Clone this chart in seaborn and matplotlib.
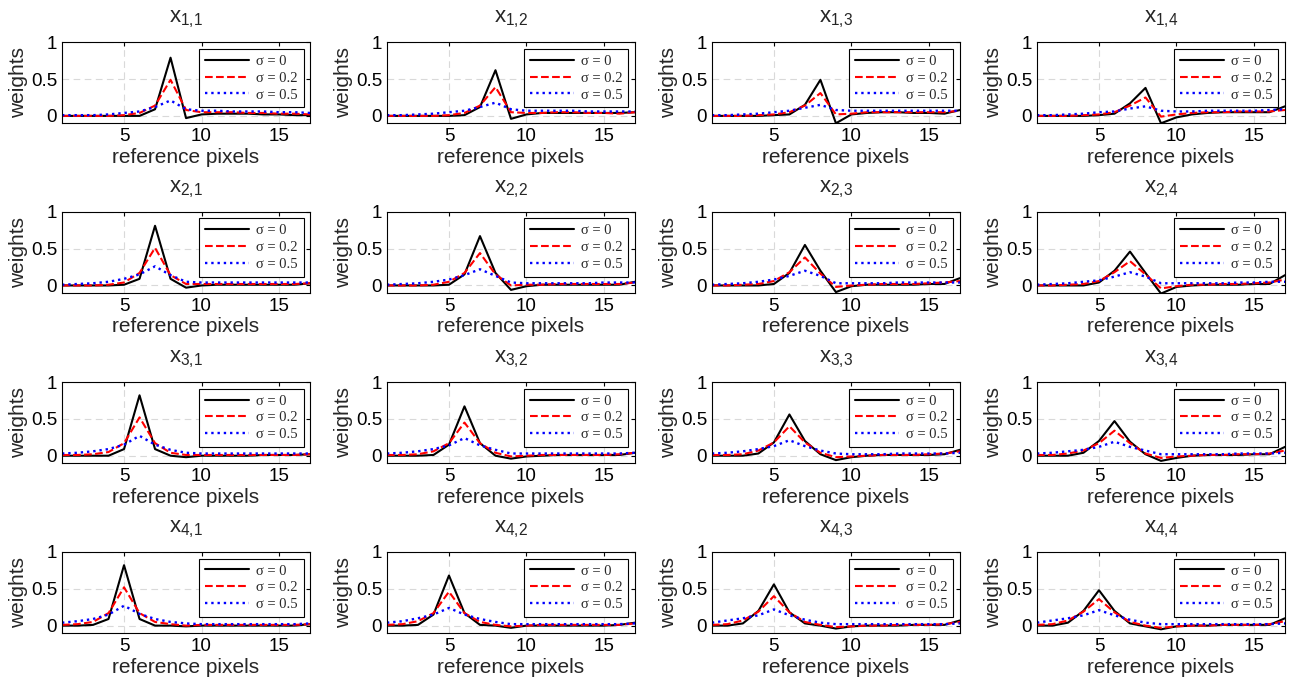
import numpy as np
import pandas as pd
import matplotlib
matplotlib.use('Agg')
import matplotlib.pyplot as plt
import seaborn as sns


pixels = list(range(1, 18))
sigma_labels = ['σ = 0', 'σ = 0.2', 'σ = 0.5']
titles = [['x$_{%d{,}%d}$' % (r, c) for c in range(1, 5)] for r in range(1, 5)]

# weights per row (one list per column), sigma = 0 / 0.2 / 0.5
s0_r1 = [
    [0, 0, 0, 0, 0, 0, 0.09, 0.79, -0.03, 0.02, 0.03, 0.03, 0.03, 0.02, 0.02, 0.01, 0.01],
    [0, 0, 0, 0, 0, 0.01, 0.12, 0.62, -0.04, 0.02, 0.04, 0.04, 0.04, 0.04, 0.04, 0.04, 0.05],
    [0, 0, 0, 0, 0.01, 0.02, 0.15, 0.49, -0.1, 0.02, 0.04, 0.05, 0.05, 0.04, 0.04, 0.03, 0.08],
    [0, 0, 0, 0, 0.01, 0.03, 0.17, 0.38, -0.1, -0.02, 0.02, 0.04, 0.05, 0.05, 0.05, 0.05, 0.13],
]
s02_r1 = [
    [0, 0, 0, 0, 0.01, 0.04, 0.14, 0.49, 0.08, 0.05, 0.05, 0.05, 0.04, 0.04, 0.03, 0.03, 0.02],
    [0, 0, 0, 0, 0.01, 0.04, 0.14, 0.39, 0.05, 0.04, 0.04, 0.05, 0.05, 0.04, 0.04, 0.03, 0.05],
    [0, 0, 0, 0.01, 0.02, 0.05, 0.14, 0.31, 0.02, 0.03, 0.05, 0.05, 0.05, 0.05, 0.05, 0.05, 0.07],
    [0, 0, 0, 0.01, 0.02, 0.05, 0.14, 0.25, -0.01, 0.02, 0.04, 0.05, 0.05, 0.06, 0.06, 0.06, 0.08],
]
s05_r1 = [
    [0.01, 0.01, 0.01, 0.02, 0.04, 0.06, 0.12, 0.21, 0.09, 0.07, 0.07, 0.06, 0.06, 0.06, 0.05, 0.05, 0.04],
    [0.01, 0.01, 0.02, 0.03, 0.05, 0.07, 0.12, 0.18, 0.09, 0.07, 0.07, 0.07, 0.07, 0.06, 0.06, 0.06, 0.06],
    [0.01, 0.01, 0.02, 0.03, 0.05, 0.07, 0.11, 0.15, 0.08, 0.07, 0.07, 0.07, 0.07, 0.07, 0.07, 0.07, 0.07],
    [0.01, 0.01, 0.02, 0.03, 0.05, 0.06, 0.1, 0.13, 0.07, 0.06, 0.06, 0.07, 0.07, 0.07, 0.07, 0.08, 0.09],
]

s0_r2 = [
    [0, 0, 0, 0, 0.01, 0.09, 0.81, 0.09, -0.03, 0, 0.01, 0.01, 0.01, 0.01, 0.01, 0.01, 0.03],
    [0, 0, 0, 0, 0.01, 0.15, 0.67, 0.17, -0.06, -0.01, 0.01, 0.01, 0.01, 0.01, 0.01, 0.01, 0.05],
    [0, 0, 0, 0, 0.02, 0.17, 0.55, 0.2, -0.09, -0.01, 0.01, 0.01, 0.01, 0.01, 0.02, 0.02, 0.1],
    [0, 0, 0, 0, 0.04, 0.2, 0.46, 0.17, -0.11, -0.02, 0, 0.01, 0.01, 0.01, 0.02, 0.02, 0.14],
]
s02_r2 = [
    [0, 0, 0, 0.01, 0.04, 0.17, 0.51, 0.14, 0.02, 0.02, 0.02, 0.02, 0.02, 0.02, 0.02, 0.02, 0.03],
    [0, 0, 0, 0.01, 0.05, 0.17, 0.44, 0.15, 0, 0.01, 0.01, 0.02, 0.02, 0.02, 0.02, 0.02, 0.04],
    [0, 0, 0.01, 0.02, 0.06, 0.18, 0.38, 0.16, -0.02, 0, 0.01, 0.02, 0.02, 0.02, 0.03, 0.04, 0.06],
    [0, 0, 0.01, 0.02, 0.06, 0.18, 0.33, 0.15, -0.04, -0.01, 0.01, 0.01, 0.02, 0.02, 0.03, 0.04, 0.08],
]
s05_r2 = [
    [0.01, 0.02, 0.03, 0.05, 0.09, 0.15, 0.26, 0.14, 0.05, 0.04, 0.04, 0.04, 0.04, 0.04, 0.04, 0.04, 0.04],
    [0.01, 0.02, 0.03, 0.05, 0.08, 0.14, 0.22, 0.13, 0.04, 0.03, 0.03, 0.03, 0.03, 0.03, 0.04, 0.04, 0.04],
    [0.01, 0.02, 0.03, 0.05, 0.08, 0.13, 0.2, 0.13, 0.03, 0.03, 0.03, 0.03, 0.04, 0.04, 0.04, 0.04, 0.04],
    [0.01, 0.02, 0.03, 0.05, 0.07, 0.12, 0.18, 0.12, 0.03, 0.03, 0.03, 0.03, 0.03, 0.04, 0.04, 0.05, 0.05],
]

s0_r3 = [
    [0, 0, 0, 0, 0.09, 0.82, 0.09, 0.0, -0.02, 0, 0, 0, 0, 0.01, 0.01, 0.01, 0.02],
    [0, 0, 0, 0.01, 0.15, 0.67, 0.17, 0.0, -0.04, -0.01, 0, 0.01, 0.01, 0.01, 0.01, 0.01, 0.04],
    [0, 0, 0, 0.03, 0.18, 0.56, 0.2, 0.02, -0.06, -0.02, 0, 0.01, 0.01, 0.01, 0.01, 0.02, 0.08],
    [0, 0, 0, 0.04, 0.2, 0.47, 0.19, 0.02, -0.07, -0.03, 0, 0.01, 0.01, 0.01, 0.02, 0.02, 0.12],
]
s02_r3 = [
    [0.01, 0.01, 0.02, 0.05, 0.17, 0.52, 0.17, 0.04, 0.01, 0.01, 0.01, 0.01, 0.01, 0.01, 0.01, 0.01, 0.02],
    [0.01, 0.01, 0.02, 0.06, 0.17, 0.45, 0.17, 0.04, -0.01, 0, 0.01, 0.01, 0.01, 0.01, 0.01, 0.02, 0.04],
    [0.01, 0.01, 0.02, 0.07, 0.18, 0.4, 0.18, 0.04, -0.02, -0.01, 0, 0.01, 0.01, 0.01, 0.02, 0.03, 0.06],
    [0.01, 0.01, 0.03, 0.07, 0.17, 0.34, 0.17, 0.03, -0.03, -0.01, 0, 0.01, 0.01, 0.02, 0.02, 0.03, 0.07],
]
s05_r3 = [
    [0.03, 0.04, 0.06, 0.09, 0.15, 0.27, 0.15, 0.08, 0.04, 0.03, 0.03, 0.03, 0.03, 0.03, 0.03, 0.03, 0.03],
    [0.03, 0.04, 0.06, 0.09, 0.14, 0.24, 0.14, 0.08, 0.03, 0.03, 0.03, 0.03, 0.03, 0.03, 0.03, 0.03, 0.04],
    [0.03, 0.04, 0.06, 0.09, 0.13, 0.21, 0.13, 0.07, 0.03, 0.02, 0.02, 0.02, 0.03, 0.03, 0.03, 0.03, 0.04],
    [0.03, 0.04, 0.06, 0.08, 0.12, 0.19, 0.12, 0.07, 0.02, 0.02, 0.02, 0.02, 0.02, 0.03, 0.03, 0.03, 0.04],
]

s0_r4 = [
    [0, 0, 0.01, 0.09, 0.82, 0.09, 0, 0, -0.01, 0, 0, 0, 0, 0, 0, 0, 0.02],
    [0, 0, 0.01, 0.15, 0.68, 0.17, 0.01, 0, -0.03, 0, 0, 0, 0, 0, 0, 0.01, 0.04],
    [0, 0, 0.03, 0.2, 0.56, 0.18, 0.03, 0, -0.04, -0.01, 0, 0, 0, 0.01, 0.01, 0.01, 0.07],
    [0, 0, 0.04, 0.2, 0.48, 0.2, 0.03, -0.01, -0.05, -0.01, 0, 0, 0.01, 0.01, 0.01, 0.01, 0.1],
]
s02_r4 = [
    [0.01, 0.02, 0.05, 0.17, 0.52, 0.17, 0.05, 0.02, 0, 0.01, 0.01, 0.01, 0.01, 0.01, 0.01, 0.01, 0.02],
    [0.01, 0.02, 0.06, 0.17, 0.46, 0.17, 0.05, 0.01, -0.01, 0, 0.01, 0.01, 0.01, 0.01, 0.01, 0.01, 0.03],
    [0.01, 0.02, 0.07, 0.19, 0.4, 0.18, 0.05, 0.01, -0.02, -0.01, 0, 0, 0.01, 0.01, 0.01, 0.02, 0.05],
    [0.01, 0.02, 0.07, 0.19, 0.36, 0.18, 0.05, 0, -0.03, -0.01, 0, 0, 0.01, 0.01, 0.01, 0.02, 0.06],
]
s05_r4 = [
    [0.04, 0.06, 0.09, 0.15, 0.27, 0.16, 0.09, 0.05, 0.03, 0.02, 0.02, 0.02, 0.02, 0.02, 0.02, 0.02, 0.03],
    [0.04, 0.06, 0.1, 0.15, 0.24, 0.15, 0.09, 0.05, 0.02, 0.02, 0.02, 0.02, 0.02, 0.02, 0.02, 0.02, 0.03],
    [0.04, 0.07, 0.1, 0.14, 0.22, 0.14, 0.08, 0.04, 0.02, 0.02, 0.02, 0.02, 0.02, 0.02, 0.02, 0.02, 0.03],
    [0.04, 0.07, 0.1, 0.14, 0.21, 0.14, 0.08, 0.04, 0.02, 0.02, 0.02, 0.02, 0.02, 0.02, 0.02, 0.02, 0.03],
]

rows = [
    (s0_r1, s02_r1, s05_r1),
    (s0_r2, s02_r2, s05_r2),
    (s0_r3, s02_r3, s05_r3),
    (s0_r4, s02_r4, s05_r4),
]

sns.set_style('white')
plt.rcParams['font.family'] = ['Liberation Sans', 'DejaVu Sans']
plt.rcParams['mathtext.fontset'] = 'custom'
plt.rcParams['mathtext.rm'] = 'Liberation Sans'
plt.rcParams['mathtext.default'] = 'regular'

colors = ['black', 'red', 'blue']
styles = ['-', '--', ':']
widths = [1.5, 1.5, 1.7]

fig = plt.figure(figsize=(12.92, 6.81), dpi=100)

lefts = [0.048, 0.2995, 0.551, 0.8026]
bottoms = [0.819, 0.570, 0.320, 0.0705]

for r in range(4):
    for c in range(4):
        ax = fig.add_axes([lefts[c], bottoms[r], 0.192, 0.119])
        for k in range(3):
            df = pd.DataFrame({'pixel': pixels, 'weight': rows[r][k][c]})
            sns.lineplot(data=df, x='pixel', y='weight', ax=ax, color=colors[k],
                         linestyle=styles[k], linewidth=widths[k], label=sigma_labels[k])
        ax.set_xlim(1, 17)
        ax.set_ylim(-0.1, 1)
        ax.set_xticks([5, 10, 15])
        ax.set_yticks([0, 0.5, 1])
        ax.set_yticklabels(['0', '0.5', '1'])
        ax.grid(True, linestyle=(0, (6, 4)), color='#d9d9d9', linewidth=0.8)
        ax.tick_params(direction='in', top=True, right=True, length=3,
                       labelsize=13.5, width=0.8, colors='black')
        for sp in ax.spines.values():
            sp.set_color('black')
            sp.set_linewidth(0.8)
        ax.set_xlabel('reference pixels', fontsize=15, labelpad=2)
        ax.set_ylabel('weights', fontsize=15, labelpad=2)
        ax.set_title(titles[r][c], fontsize=16, pad=14)
        leg = ax.legend(loc='upper right', prop={'family': 'Liberation Serif', 'size': 10.5},
                        frameon=True, fancybox=False, framealpha=1, edgecolor='black',
                        handlelength=3.0, handletextpad=0.5, labelspacing=0.25,
                        borderpad=0.4, borderaxespad=0.45)
        leg.get_frame().set_linewidth(0.8)

plt.savefig('out.png', dpi=100)
